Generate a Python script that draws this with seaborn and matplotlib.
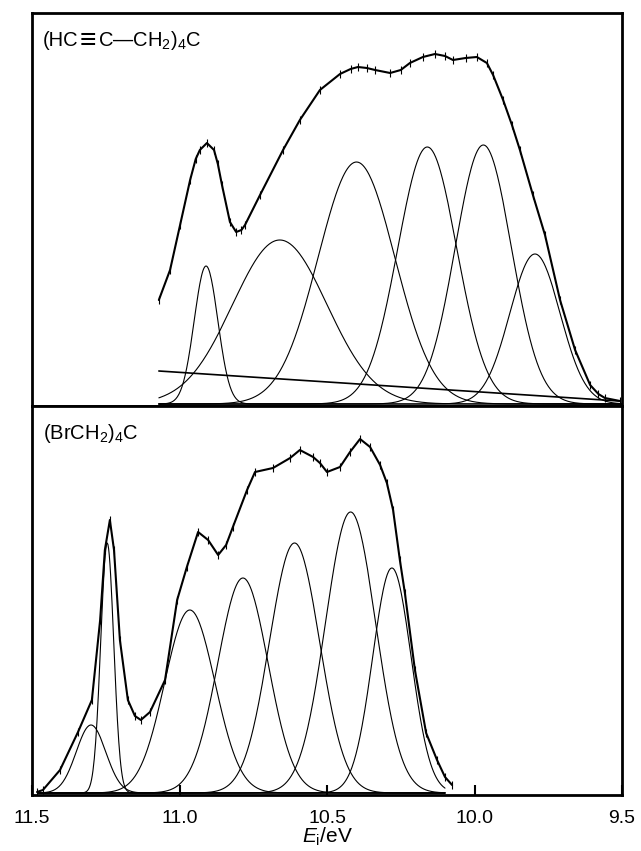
import numpy as np
import pandas as pd
import matplotlib
matplotlib.use("Agg")
import matplotlib.pyplot as plt
import seaborn as sns

# ---------------- data ----------------
# top panel: (HC≡C-CH2)4C — Gaussian components (centre eV, height, sigma eV)
top_centers = [10.91, 10.66, 10.40, 10.16, 9.97, 9.795]
top_heights = [138, 164, 242, 257, 259, 150]
top_sigmas = [0.040, 0.16, 0.13, 0.10, 0.095, 0.085]
top_bg_ev = [11.07, 9.51]
top_bg_val = [33, 3]
top_span = [11.07, 9.50]
# measured envelope (fit + data) of the top spectrum
top_env_ev = [11.070, 11.032, 10.998, 10.964, 10.945, 10.931, 10.907, 10.883,
              10.870, 10.856, 10.829, 10.808, 10.790, 10.778, 10.727, 10.649,
              10.592, 10.524, 10.456, 10.420, 10.395, 10.365, 10.337, 10.286,
              10.250, 10.219, 10.175, 10.134, 10.100, 10.073, 10.030, 9.992,
              9.958, 9.937, 9.903, 9.873, 9.846, 9.802, 9.761, 9.710, 9.659,
              9.608, 9.580, 9.558, 9.507]
top_env_val = [104, 134, 179, 224, 245, 254, 261, 254, 240, 219, 182, 172, 174,
               179, 209, 254, 284, 314, 330, 335, 337, 336, 334, 331, 334, 341,
               347, 350, 348, 344, 346, 347, 341, 329, 304, 279, 254, 209, 169,
               104, 54, 19, 10, 6, 3]

# bottom panel: (BrCH2)4C
bot_centers = [11.30, 11.245, 10.965, 10.785, 10.61, 10.42, 10.28]
bot_heights = [68, 250, 183, 215, 250, 281, 225]
bot_sigmas = [0.050, 0.022, 0.085, 0.085, 0.085, 0.085, 0.065]
bot_span = [11.48, 10.10]
bot_env_ev = [11.483, 11.463, 11.405, 11.344, 11.297, 11.269, 11.253, 11.236,
              11.222, 11.202, 11.175, 11.151, 11.131, 11.100, 11.049, 11.008,
              10.975, 10.937, 10.903, 10.869, 10.842, 10.819, 10.771, 10.744,
              10.683, 10.625, 10.592, 10.547, 10.524, 10.500, 10.456, 10.422,
              10.388, 10.354, 10.320, 10.297, 10.276, 10.253, 10.236, 10.202,
              10.164, 10.127, 10.100, 10.076]
bot_env_val = [1, 3, 23, 61, 93, 173, 243, 273, 243, 153, 93, 77, 73, 81, 113,
               193, 226, 261, 253, 238, 248, 266, 303, 321, 325, 335, 343, 336,
               330, 321, 326, 341, 354, 346, 328, 310, 283, 233, 200, 123, 60,
               33, 16, 8]

xticks = [11.5, 11.0, 10.5, 10.0, 9.5]
xticklabels = ["11.5", "11.0", "10.5", "10.0", "9.5"]
top_label_parts = ["(HC", "\u2261", "C\u2014CH$_2$)$_4$C"]
bot_label = "(BrCH$_2$)$_4$C"
xlabel = "$E_{\\mathrm{i}}$/eV"


def gauss(x, c, h, s):
    return h * np.exp(-0.5 * ((x - c) / s) ** 2)


def components(span, centers, heights, sigmas):
    x = np.linspace(span[0], span[1], 600)
    rows = [pd.DataFrame({"E": x, "I": gauss(x, c, h, s), "comp": f"g{i}"})
            for i, (c, h, s) in enumerate(zip(centers, heights, sigmas))]
    return pd.concat(rows, ignore_index=True)


sns.set_style("white")
plt.rcParams["font.family"] = ["Liberation Sans", "DejaVu Sans"]
plt.rcParams["mathtext.fontset"] = "custom"
plt.rcParams["mathtext.rm"] = "Liberation Sans"
plt.rcParams["mathtext.it"] = "Liberation Sans:italic"
plt.rcParams["text.color"] = "black"
plt.rcParams["axes.labelcolor"] = "black"
plt.rcParams["xtick.color"] = "black"
plt.rcParams["xtick.labelcolor"] = "black"

fig = plt.figure(figsize=(6.41, 8.51), dpi=100)
ax_top = fig.add_axes([32 / 641, 1 - 406 / 851, 590 / 641, 393 / 851])
ax_bot = fig.add_axes([32 / 641, 1 - 795 / 851, 590 / 641, 389 / 851])

panels = [
    (ax_top, top_span, top_centers, top_heights, top_sigmas,
     top_env_ev, top_env_val, (-2, 391)),
    (ax_bot, bot_span, bot_centers, bot_heights, bot_sigmas,
     bot_env_ev, bot_env_val, (-2, 387)),
]
for ax, span, cen, hei, sig, env_e, env_v, ylim in panels:
    comps = components(span, cen, hei, sig)
    sns.lineplot(data=comps, x="E", y="I", units="comp", estimator=None,
                 color="black", lw=0.8, ax=ax)
    env = pd.DataFrame({"E": env_e, "I": env_v})
    sns.lineplot(data=env, x="E", y="I", color="black", lw=1.5, ax=ax,
                 estimator=None, sort=False)
    sns.scatterplot(data=env, x="E", y="I", marker="|", s=30, color="black",
                    linewidth=0.8, ax=ax)
    ax.set_xlim(11.5, 9.5)
    ax.set_ylim(*ylim)
    ax.set_yticks([])
    ax.set_ylabel("")
    ax.set_xlabel("")
    for sp in ax.spines.values():
        sp.set_visible(True)
        sp.set_linewidth(2.0)
        sp.set_color("black")

bg = pd.DataFrame({"E": top_bg_ev, "I": top_bg_val})
sns.lineplot(data=bg, x="E", y="I", color="black", lw=1.2, ax=ax_top)

# panel labels (baseline aligned); the triple bond drawn a little larger
FS = 14.5
desc = 0.212 * FS
t1 = ax_top.text(0.018, 0.915, top_label_parts[0], transform=ax_top.transAxes,
                 fontsize=FS, va="baseline", ha="left", color="black")
t2 = ax_top.annotate(top_label_parts[1], xy=(1, 0), xycoords=t1,
                     xytext=(1.0, desc - 1.4), textcoords="offset points",
                     fontsize=FS * 1.4, va="baseline", ha="left", color="black")
t3 = ax_top.annotate(top_label_parts[2], xy=(1, 0), xycoords=(t2, t1),
                     xytext=(1.0, desc), textcoords="offset points",
                     fontsize=FS, va="baseline", ha="left", color="black")
ax_bot.text(0.018, 0.915, bot_label, transform=ax_bot.transAxes,
            fontsize=FS, va="baseline", ha="left", color="black")

ax_top.set_xticks([])
ax_bot.set_xticks(xticks)
ax_bot.set_xticklabels(xticklabels, fontsize=14, color="black")
ax_bot.tick_params(axis="x", direction="in", length=7, width=1.5, pad=11,
                   bottom=True, colors="black")
ax_bot.set_xlabel(xlabel, fontsize=15, labelpad=-1, color="black")

fig.savefig("out.png", dpi=100)
